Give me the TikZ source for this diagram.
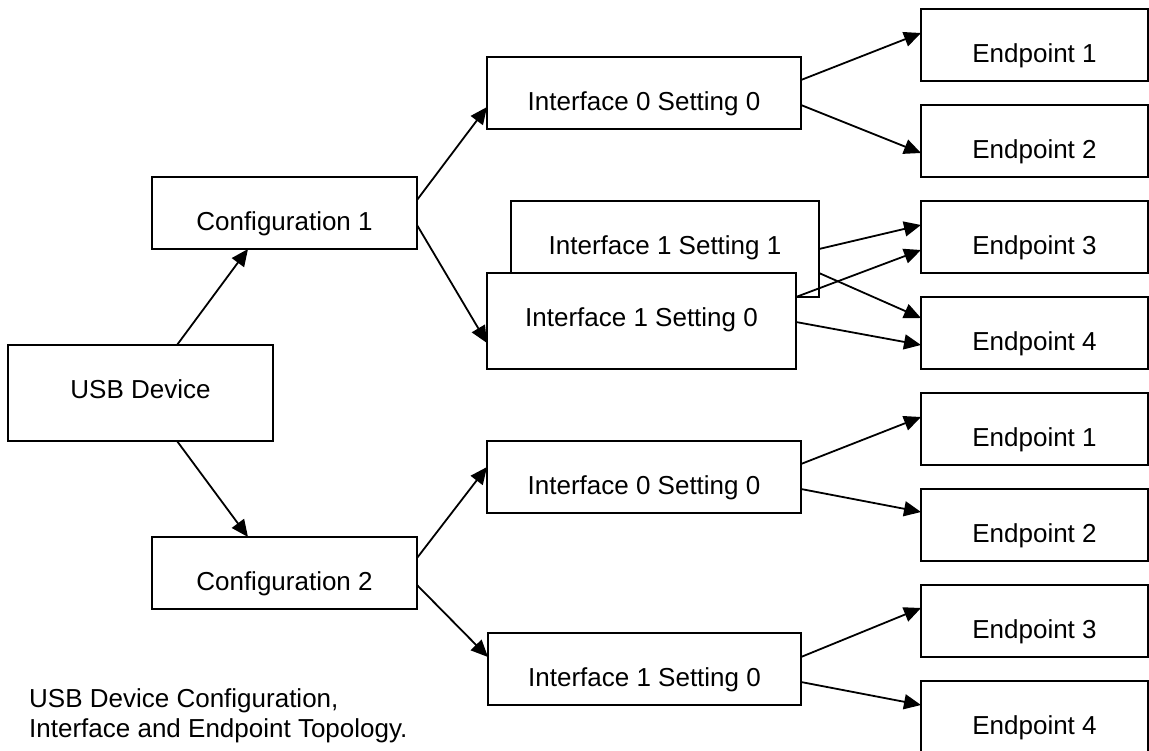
\documentclass[tikz,border=0pt]{standalone}
\usepackage{fontspec}
\setmainfont{Liberation Sans}
\usetikzlibrary{arrows.meta,calc}

\tikzset{
  box/.style={draw=black, fill=white, line width=1.8pt, rectangle,
    inner sep=0pt, outer sep=0pt, anchor=north west, align=center,
    font=\fontsize{26}{30}\selectfont, text height=53.3pt},
  shortbox/.style={box, text depth=18.7pt},
  tallbox/.style={box, text depth=42.7pt},
  link/.style={line width=1.8pt, -{Triangle[length=17pt,width=15pt]}},
  caption/.style={anchor=base west, inner sep=0pt,
    font=\fontsize{26}{30}\selectfont}
}

\begin{document}
\begin{tikzpicture}[x=1pt, y=-1pt]
\useasboundingbox (0,0) rectangle (1149,750);

% device and configurations
\node[tallbox, minimum width=265pt]  (usb)  at (8,345)  {USB Device};
\node[shortbox, minimum width=265pt] (cfg1) at (152,177) {Configuration 1};
\node[shortbox, minimum width=265pt] (cfg2) at (152,537) {Configuration 2};

% interfaces of configuration 1 (setting 1 lies behind setting 0)
\node[shortbox, minimum width=314pt] (ifa0) at (487,57)  {Interface 0 Setting 0};
\node[tallbox,  minimum width=308pt] (ifa11) at (511,201) {Interface 1 Setting 1};
\node[tallbox,  minimum width=309pt] (ifa10) at (487,273) {Interface 1 Setting 0};

% interfaces of configuration 2
\node[shortbox, minimum width=314pt] (ifb0) at (487,441) {Interface 0 Setting 0};
\node[shortbox, minimum width=313pt] (ifb1) at (488,633) {Interface 1 Setting 0};

% endpoints
\node[shortbox, minimum width=227pt] (epa1) at (921,9)   {Endpoint 1};
\node[shortbox, minimum width=227pt] (epa2) at (921,105) {Endpoint 2};
\node[shortbox, minimum width=227pt] (epa3) at (921,201) {Endpoint 3};
\node[shortbox, minimum width=227pt] (epa4) at (921,297) {Endpoint 4};
\node[shortbox, minimum width=227pt] (epb1) at (921,393) {Endpoint 1};
\node[shortbox, minimum width=227pt] (epb2) at (921,489) {Endpoint 2};
\node[shortbox, minimum width=227pt] (epb3) at (921,585) {Endpoint 3};
\node[shortbox, minimum width=227pt] (epb4) at (921,681) {Endpoint 4};

% caption
\node[caption] (cap1) at (29,707) {USB Device Configuration,};
\node[caption] (cap2) at (29,737) {Interface and Endpoint Topology.};

% device to configurations
\draw[link] ($(usb.north west)+(169,0)$) -- ($(cfg1.south west)+(96,0)$);
\draw[link] ($(usb.south west)+(169,0)$) -- ($(cfg2.north west)+(96,0)$);

% configurations to interfaces
\draw[link] ($(cfg1.north east)+(0,23)$) -- ($(ifa0.north west)+(0,50)$);
\draw[link] ($(cfg1.north east)+(0,48)$) -- ($(ifa10.north west)+(0,70)$);
\draw[link] ($(cfg2.north east)+(0,21)$) -- ($(ifb0.north west)+(0,26)$);
\draw[link] ($(cfg2.north east)+(0,48)$) -- ($(ifb1.north west)+(0,24)$);

% interfaces to endpoints, configuration 1
\draw[link] ($(ifa0.north east)+(0,23)$) -- ($(epa1.north west)+(0,24)$);
\draw[link] ($(ifa0.north east)+(0,48)$) -- ($(epa2.north west)+(0,48)$);
\draw[link] ($(ifa11.north east)+(0,48)$) -- ($(epa3.north west)+(0,24)$);
\draw[link] ($(ifa11.north east)+(0,72)$) -- ($(epa4.north west)+(0,21)$);
\draw[link] ($(ifa10.north east)+(0,24)$) -- ($(epa3.north west)+(0,49)$);
\draw[link] ($(ifa10.north east)+(0,49)$) -- ($(epa4.north west)+(0,48)$);

% interfaces to endpoints, configuration 2
\draw[link] ($(ifb0.north east)+(0,23)$) -- ($(epb1.north west)+(0,24)$);
\draw[link] ($(ifb0.north east)+(0,48)$) -- ($(epb2.north west)+(0,23)$);
\draw[link] ($(ifb1.north east)+(0,24)$) -- ($(epb3.north west)+(0,23)$);
\draw[link] ($(ifb1.north east)+(0,49)$) -- ($(epb4.north west)+(0,24)$);
\end{tikzpicture}
\end{document}
